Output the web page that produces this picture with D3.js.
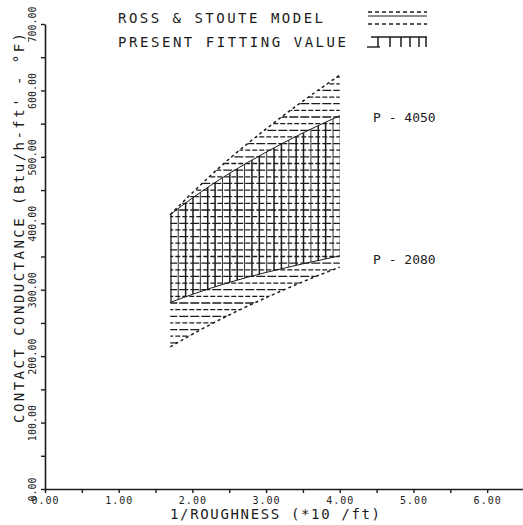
<!doctype html>
<html>
<head>
<meta charset="utf-8">
<script src="https://cdn.jsdelivr.net/npm/d3@7"></script>
<style>
  body { margin: 0; background: #fff; }
  text { font-family: "DejaVu Sans Mono", monospace; fill: #1c1c1c; }
</style>
</head>
<body>
<script>
// values
var roughness = [1.7, 2.0, 2.5, 3.0, 3.5, 4.0];
var rossLow   = [214, 233, 262, 288, 312, 334];   // P = 2080
var rossHigh  = [413, 446, 497, 542, 584, 623];   // P = 4050
var fitLow    = [281, 293, 311, 326, 339, 351];
var fitHigh   = [413, 438, 475, 507, 536, 562];

var xTicks = d3.range(0, 6.01, 0.5);
var yTicks = d3.range(0, 701, 50);
var legendLabels = ["ROSS & STOUTE MODEL", "PRESENT FITTING VALUE"];
var pressureLabels = ["P - 4050", "P - 2080"];

var w = 523, h = 525;
var ink = "#1c1c1c";

var svg = d3.select("body").append("svg")
    .attr("width", w)
    .attr("height", h);

var x = d3.scaleLinear().domain([0, 6.5]).range([45, 524]);
var y = d3.scaleLinear().domain([0, 700]).range([489, 24]);

var ross = roughness.map(function(r, i){ return {x: r, lo: rossLow[i], hi: rossHigh[i]}; });
var fit = roughness.map(function(r, i){ return {x: r, lo: fitLow[i], hi: fitHigh[i]}; });

var area = d3.area()
    .x(function(d){ return x(d.x); })
    .y0(function(d){ return y(d.lo); })
    .y1(function(d){ return y(d.hi); })
    .curve(d3.curveMonotoneX);

var defs = svg.append("defs");
defs.append("clipPath").attr("id", "clip-ross")
    .append("path").attr("d", area(ross));
defs.append("clipPath").attr("id", "clip-fit")
    .append("path").attr("d", area(fit));

// horizontal hatch : Ross & Stoute band
var hLevels = d3.range(210, 631, 10);
svg.append("g").attr("clip-path", "url(#clip-ross)")
    .selectAll("line").data(hLevels).enter().append("line")
    .attr("x1", x(1.7) - 2).attr("x2", x(4.0) + 2)
    .attr("y1", function(d){ return y(d); })
    .attr("y2", function(d){ return y(d); })
    .attr("stroke", ink)
    .attr("stroke-width", 1.3)
    .attr("stroke-dasharray", function(d, i){ return i % 2 ? "9,2" : "5,2"; });

// vertical hatch : present fitting
var vLevels = d3.range(17, 41).map(function(v){ return v / 10; });
svg.append("g").attr("clip-path", "url(#clip-fit)")
    .selectAll("line").data(vLevels).enter().append("line")
    .attr("x1", function(d){ return x(d) + 0.6; })
    .attr("x2", function(d){ return x(d) + 0.6; })
    .attr("y1", y(200)).attr("y2", y(640))
    .attr("stroke", ink)
    .attr("stroke-width", function(d, i){ return i % 3 == 1 ? 0.9 : 1.5; });

// boundaries
var line = d3.line().curve(d3.curveMonotoneX);
var lines = [
    {v: rossHigh, dash: "3,3", sw: 1.5},
    {v: rossLow, dash: "3,3", sw: 1.5},
    {v: fitHigh, dash: null, sw: 1},
    {v: fitLow, dash: null, sw: 1}
];
svg.selectAll(".bound").data(lines).enter().append("path")
    .attr("class", "bound")
    .attr("d", function(d){
        return line(roughness.map(function(r, i){ return [x(r), y(d.v[i])]; }));
    })
    .attr("fill", "none")
    .attr("stroke", ink)
    .attr("stroke-width", function(d){ return d.sw; })
    .attr("stroke-dasharray", function(d){ return d.dash; });

// axes
var xAxis = svg.append("g")
    .attr("transform", "translate(0," + y(0) + ")")
    .call(d3.axisBottom(x)
        .tickValues(xTicks)
        .tickSize(4)
        .tickSizeOuter(0)
        .tickFormat(function(d){ return Number.isInteger(d) ? d.toFixed(2) : ""; }));
xAxis.selectAll("text")
    .attr("y", 8)
    .attr("font-size", "10px")
    .attr("letter-spacing", "1px")
    .attr("font-family", "DejaVu Sans Mono");

var yAxis = svg.append("g")
    .attr("transform", "translate(" + x(0) + ",0)")
    .call(d3.axisLeft(y)
        .tickValues(yTicks)
        .tickSize(4)
        .tickSizeOuter(0)
        .tickFormat(function(d){ return d % 100 == 0 ? d.toFixed(2) : ""; }));
yAxis.selectAll("text")
    .attr("transform", "rotate(-90)")
    .attr("text-anchor", "middle")
    .attr("x", 0)
    .attr("y", -13)
    .attr("dy", "0.35em")
    .attr("font-size", "10px")
    .attr("font-family", "DejaVu Sans Mono");

svg.selectAll(".domain").attr("stroke", ink).attr("stroke-width", 1.6);
svg.selectAll(".tick line").attr("stroke", ink).attr("stroke-width", 1.4);

// axis titles
svg.append("text")
    .attr("transform", "translate(19,228) rotate(-90)")
    .attr("text-anchor", "middle")
    .attr("dy", "0.35em")
    .attr("font-size", "14px")
    .attr("textLength", 390)
    .attr("lengthAdjust", "spacing")
    .text("CONTACT CONDUCTANCE (Btu/h-ft' - °F)");

svg.append("text")
    .attr("x", 275).attr("y", 519)
    .attr("text-anchor", "middle")
    .attr("font-size", "14px")
    .attr("textLength", 210)
    .attr("lengthAdjust", "spacing")
    .text("1/ROUGHNESS (*10 /ft)");

// legend
var lg = svg.append("g");
lg.selectAll("text").data(legendLabels).enter().append("text")
    .attr("x", 118)
    .attr("y", function(d, i){ return i ? 47 : 23; })
    .attr("font-size", "14px")
    .attr("textLength", function(d, i){ return i ? 228 : 205; })
    .attr("lengthAdjust", "spacing")
    .text(function(d){ return d; });

var sym = [
    {y: 12, dash: "4,3", sw: 1.4},
    {y: 16, dash: null, sw: 1},
    {y: 24, dash: "4,3", sw: 1.4}
];
lg.selectAll(".sym").data(sym).enter().append("line")
    .attr("class", "sym")
    .attr("x1", 368).attr("x2", 427)
    .attr("y1", function(d){ return d.y; })
    .attr("y2", function(d){ return d.y; })
    .attr("stroke", ink)
    .attr("stroke-width", function(d){ return d.sw; })
    .attr("stroke-dasharray", function(d){ return d.dash; });

lg.append("line").attr("x1", 371).attr("x2", 427).attr("y1", 37).attr("y2", 37)
    .attr("stroke", ink).attr("stroke-width", 1.4);
lg.append("line").attr("x1", 367).attr("x2", 380).attr("y1", 47).attr("y2", 47)
    .attr("stroke", ink).attr("stroke-width", 1.4);
lg.selectAll(".bar").data([378, 390, 401, 410, 419, 426]).enter().append("line")
    .attr("class", "bar")
    .attr("x1", function(d){ return d; }).attr("x2", function(d){ return d; })
    .attr("y1", 37).attr("y2", 47)
    .attr("stroke", ink).attr("stroke-width", 1.5);

// pressure labels
svg.selectAll(".plab").data(pressureLabels).enter().append("text")
    .attr("class", "plab")
    .attr("x", 373)
    .attr("y", function(d, i){ return i ? 264 : 122; })
    .attr("font-size", "13px")
    .text(function(d){ return d; });
</script>
</body>
</html>
